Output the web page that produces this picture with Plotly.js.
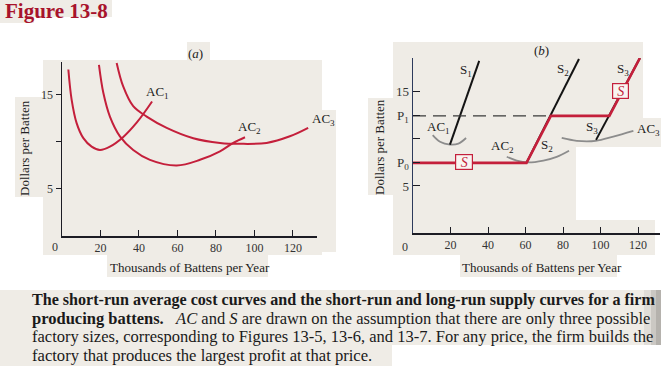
<!DOCTYPE html>
<html>
<head>
<meta charset="utf-8">
<script src="https://cdn.plot.ly/plotly-3.0.1.min.js"></script>
<style>html,body{margin:0;padding:0;background:#fff;}#chart{width:661px;height:366px;}</style>
</head>
<body>
<div id="chart"></div>
<script>
// ---------- Data ----------
// Panel (a): short-run average cost curves
var a_ac1_x = [3.3, 5.0, 7.6, 11.1, 15.4, 19.7, 24.9, 31.7, 39.0, 46.8];
var a_ac1_y = [17.7, 14.5, 12.0, 10.4, 9.5, 9.15, 9.5, 10.5, 12.1, 14.3];
var a_ac2_x = [19.2, 21.5, 24.9, 30.1, 37.0, 45.7, 59.6, 71.7, 82.1, 89.0, 95.1];
var a_ac2_y = [18.2, 15.2, 12.7, 10.6, 9.15, 8.1, 7.5, 8.1, 9.0, 9.9, 10.5];
var a_ac3_x = [28.4, 31.8, 37.0, 44.0, 54.4, 68.2, 82.1, 92.5, 106.3, 118.4, 127.9];
var a_ac3_y = [18.4, 15.9, 13.8, 12.7, 11.5, 10.4, 9.9, 9.8, 9.9, 10.6, 11.5];

// Panel (b): supply curves
var P0 = 7.45, P1 = 12.45;
var b_ac1_x = [10.5, 14.4, 19.7, 24.2, 28.3];
var b_ac1_y = [10.4, 9.7, 9.4, 9.5, 10.1];
var b_ac2_x = [50.0, 55.3, 61.2, 69.5, 76.6, 83.2];
var b_ac2_y = [8.1, 7.7, 7.5, 7.7, 8.1, 8.75];
var b_ac3_x = [79.3, 87.3, 97.4, 106.8, 117.5];
var b_ac3_y = [10.1, 9.8, 9.8, 10.25, 10.85];
var b_s1_x = [19.7, 35.3];
var b_s1_y = [9.4, 18.3];
var b_s2_x = [60.5, 88.5];
var b_s2_y = [P0, 18.5];
var b_s3_x = [97.6, 121];
var b_s3_y = [9.9, 18.6];
var b_dash_x = [0, 73.5];
var b_dash_y = [P1, P1];
var b_lr_x = [0, 60.5, 73.5, 104.7, 121];
var b_lr_y = [P0, P0, P1, P1, 18.6];

var xTicks = [20, 40, 60, 80, 100, 120];
var aYTicks = [5, 10, 15];
var aYText = ['5', '', '15'];
var bYTicks = [5, P0, 10, P1, 15];
var bYText = ['5', 'P<sub>0</sub>', '', 'P<sub>1</sub>', '15'];

// ---------- Styling ----------
var W = 661, H = 366;
var RED = '#c41f3b', BLACK = '#141414', GRAY = '#8c8c8c';
var SERIF = 'Liberation Serif, Times New Roman, serif';
var BG = '#efece6';
function px(x) { return x / W; }
function py(y) { return 1 - y / H; }

function line(x, y, xa, ya, color, width, extra) {
  var t = {x: x, y: y, xaxis: xa, yaxis: ya, type: 'scatter', mode: 'lines',
    line: {color: color, width: width}, hoverinfo: 'skip', cliponaxis: false};
  if (extra) { for (var k in extra) t.line[k] = extra[k]; }
  return t;
}
var sp = {shape: 'spline', smoothing: 1};
var traces = [
  line(a_ac1_x, a_ac1_y, 'x', 'y', RED, 2, sp),
  line(a_ac2_x, a_ac2_y, 'x', 'y', RED, 2, sp),
  line(a_ac3_x, a_ac3_y, 'x', 'y', RED, 2, sp),
  line(b_ac1_x, b_ac1_y, 'x2', 'y2', GRAY, 1.8, sp),
  line(b_ac2_x, b_ac2_y, 'x2', 'y2', GRAY, 1.8, sp),
  line(b_ac3_x, b_ac3_y, 'x2', 'y2', GRAY, 1.8, sp),
  line(b_s1_x, b_s1_y, 'x2', 'y2', BLACK, 2),
  line(b_s2_x, b_s2_y, 'x2', 'y2', BLACK, 2),
  line(b_s3_x, b_s3_y, 'x2', 'y2', BLACK, 2),
  line(b_dash_x, b_dash_y, 'x2', 'y2', '#3a3a3a', 1.4, {dash: '13px,7px'}),
  line(b_lr_x, b_lr_y, 'x2', 'y2', RED, 2.6)
];

function rect(x0, y0, x1, y1, c) {
  return {type: 'rect', xref: 'paper', yref: 'paper', x0: px(x0), x1: px(x1),
    y0: py(y1), y1: py(y0), fillcolor: c || BG, line: {width: 0}, layer: 'below'};
}
var shapes = [
  rect(0, 0, 112, 17), rect(0, 17, 34, 23),
  rect(43, 60, 322, 255), rect(300, 110, 336, 252), rect(187, 42, 210, 60),
  rect(15, 97, 43, 197), rect(107, 255, 268, 277),
  rect(393, 42, 643, 147), rect(643, 118, 661, 147), rect(393, 147, 576, 220),
  rect(393, 220, 655, 255), rect(368, 98, 393, 195), rect(460, 255, 617, 277),
  rect(0, 290, 661, 345), rect(0, 345, 392, 366),
  rect(644, 290, 661, 345, '#e0ddd8'), rect(651, 290, 661, 345, '#cbc8c3'),
  rect(656, 290, 661, 345, '#b5b2ad')
];

function lab(x, y, text, opt) {
  var a = {xref: 'paper', yref: 'paper', x: px(x), y: py(y), text: text, showarrow: false,
    xanchor: 'center', yanchor: 'middle', font: {family: SERIF, size: 13, color: '#222'}};
  if (opt) { for (var k in opt) a[k] = opt[k]; }
  return a;
}
function capFont(s) { return {family: SERIF, size: s, color: '#1a1a1a'}; }
var NB = '\u00a0';
var annotations = [
  lab(50, 11, '<b>Figure 13-8</b>', {font: {family: SERIF, size: 21, color: '#a8132c'}, xanchor: 'left', x: px(3)}),
  // panel a
  lab(195, 53, '(<i>a</i>)'),
  lab(157, 92, 'AC<sub>1</sub>'),
  lab(249, 128, 'AC<sub>2</sub>'),
  lab(323, 120, 'AC<sub>3</sub>'),
  lab(55, 247, '0', {font: {family: SERIF, size: 12, color: '#333'}}),
  lab(24, 148, 'Dollars per Batten', {textangle: -90}),
  lab(190, 267, 'Thousands of Battens per Year'),
  // panel b
  lab(541, 50, '(<i>b</i>)'),
  lab(466, 70, 'S<sub>1</sub>'),
  lab(563, 69, 'S<sub>2</sub>'),
  lab(623, 69, 'S<sub>3</sub>'),
  lab(438, 127, 'AC<sub>1</sub>'),
  lab(502, 146, 'AC<sub>2</sub>'),
  lab(547, 145, 'S<sub>2</sub>'),
  lab(592, 127, 'S<sub>3</sub>'),
  lab(648, 129, 'AC<sub>3</sub>'),
  lab(405, 247, '0', {font: {family: SERIF, size: 12, color: '#333'}}),
  lab(379, 147, 'Dollars per Batten', {textangle: -90}),
  lab(542, 267, 'Thousands of Battens per Year'),
  lab(463.5, 161.5, '<i>S</i>', {font: {family: SERIF, size: 14, color: RED}, bordercolor: RED,
    borderwidth: 1.2, bgcolor: '#f8f4f1', width: 14, height: 12, borderpad: 1}),
  lab(620, 90.5, '<i>S</i>', {font: {family: SERIF, size: 14, color: RED}, bordercolor: RED,
    borderwidth: 1.2, bgcolor: '#f8f4f1', width: 13, height: 12, borderpad: 1}),
  // caption
  lab(30, 300, '<b>The short-run average cost curves and the short-run and long-run supply curves for a firm</b>', {xanchor: 'left', font: capFont(16.1)}),
  lab(30, 318, '<b>producing battens.</b>' + NB + NB + NB + '<i>AC</i> and <i>S</i> are drawn on the assumption that there are only three possible', {xanchor: 'left', font: capFont(16.5)}),
  lab(30, 336, 'factory sizes, corresponding to Figures 13-5, 13-6, and 13-7. For any price, the firm builds the', {xanchor: 'left', font: capFont(16.5)}),
  lab(30, 355, 'factory that produces the largest profit at that price.', {xanchor: 'left', font: capFont(16.6)})
];

var tickFont = {family: SERIF, size: 12, color: '#333'};
var layout = {
  width: W, height: H, margin: {l: 0, r: 0, t: 0, b: 0},
  paper_bgcolor: '#ffffff', plot_bgcolor: 'rgba(0,0,0,0)',
  showlegend: false, hovermode: false,
  xaxis: {domain: [px(62), px(317)], range: [0, 132.5], anchor: 'y',
    showgrid: false, zeroline: false, showline: true, linecolor: '#1c1c24', linewidth: 1.5,
    tickmode: 'array', tickvals: xTicks, ticks: 'inside', ticklen: 6, tickcolor: '#1c1c24',
    tickfont: tickFont, fixedrange: true},
  yaxis: {domain: [py(236), py(62)], range: [0, 18.5], anchor: 'x',
    showgrid: false, zeroline: false, showline: true, linecolor: '#1c1c24', linewidth: 1.5,
    tickmode: 'array', tickvals: aYTicks, ticktext: aYText, ticks: 'outside', ticklen: 5,
    tickcolor: '#1c1c24', tickfont: tickFont, fixedrange: true},
  xaxis2: {domain: [px(413), px(660)], range: [0, 131.7], anchor: 'y2',
    showgrid: false, zeroline: false, showline: true, linecolor: '#1c1c24', linewidth: 1.5,
    tickmode: 'array', tickvals: xTicks, ticks: 'inside', ticklen: 6, tickcolor: '#1c1c24',
    tickfont: tickFont, fixedrange: true},
  yaxis2: {domain: [py(233), py(58)], range: [0, 18.6], anchor: 'x2',
    showgrid: false, zeroline: false, showline: true, linecolor: '#2d3a5c', linewidth: 1.5,
    tickmode: 'array', tickvals: bYTicks, ticktext: bYText, ticks: 'inside', ticklen: 7,
    tickcolor: '#1c1c24', tickfont: {family: SERIF, size: 13, color: '#333'}, fixedrange: true},
  shapes: shapes,
  annotations: annotations
};
Plotly.newPlot('chart', traces, layout, {staticPlot: true, displayModeBar: false});
</script>
</body>
</html>
